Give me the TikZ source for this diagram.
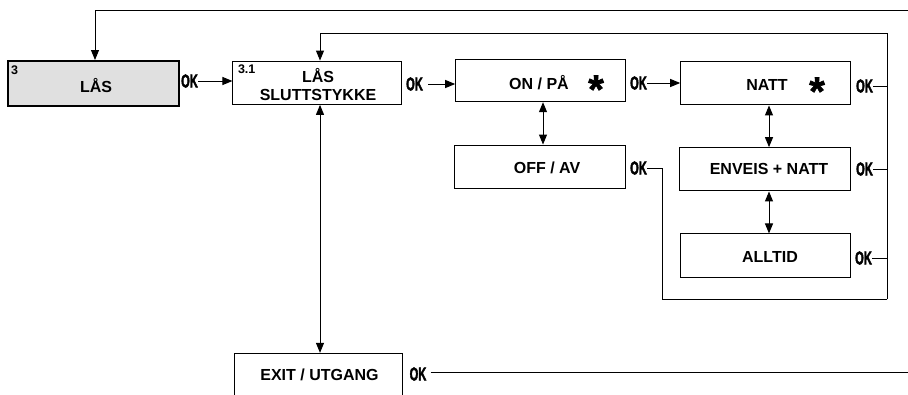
\documentclass[tikz,border=0pt]{standalone}
\usepackage{fontspec}
\usepackage{graphicx}
\setmainfont{Liberation Sans}
\newfontfamily\okfont[FakeBold=3]{Liberation Sans Bold}
\newfontfamily\starfont[FakeBold=1.5]{Liberation Sans Bold}
\usetikzlibrary{arrows.meta}
\begin{document}
\begin{tikzpicture}[x=1pt,y=-1pt,
  box/.style={draw, line width=1pt, inner sep=0pt, minimum width=170pt, minimum height=43pt},
  mainbox/.style={box, line width=2pt, fill=black!12},
  txt/.style={font=\bfseries\fontsize{16}{18}\selectfont, inner sep=0pt, anchor=base},
  num/.style={font=\bfseries\fontsize{12.5}{14}\selectfont, inner sep=0pt},
  oklbl/.style={font=\okfont\fontsize{18.5}{18.5}\selectfont, inner sep=0pt},
  starlbl/.style={font=\starfont\fontsize{40}{40}\selectfont, inner sep=0pt, anchor=base},
  ln/.style={line width=1pt},
  arr/.style={ln, -{Triangle[length=10pt,width=8pt]}},
  darr/.style={ln, {Triangle[length=10pt,width=8pt]}-{Triangle[length=10pt,width=8pt]}}
]
\useasboundingbox (0,0) rectangle (908,394);
\clip (0,0) rectangle (908,394);

% boxes
\node[mainbox, minimum width=171pt, minimum height=45pt] (las) at (93.7,83.5) {};
\node[box, minimum width=168.7pt, minimum height=43.3pt] (b31) at (317.3,82.7) {};
\node[box, minimum height=42.4pt] (on) at (540.7,80.5) {};
\node[box, minimum height=43.3pt] (natt) at (765.7,83.3) {};
\node[box, minimum width=171.7pt, minimum height=43.3pt] (off) at (540,166.7) {};
\node[box, minimum width=170.7pt, minimum height=43.3pt] (env) at (765.3,169.3) {};
\node[box, minimum height=43.7pt] (all) at (765.7,255.8) {};
\node[box, minimum width=167.7pt, minimum height=43.3pt] (exit) at (318.8,375) {};

% texts
\node[num] (n3) at (14.5,70.5) {3};
\node[txt] (tlas) at (96,92) {LÅS};
\node[num] (n31) at (246.7,69.5) {3.1};
\node[txt] (t31a) at (318,82) {LÅS};
\node[txt] (t31b) at (318,100) {SLUTTSTYKKE};
\node[txt] (ton) at (539,89.5) {ON / PÅ};
\node[starlbl] (s1) at (596,103) {*};
\node[txt] (tnatt) at (767,90) {NATT};
\node[starlbl] (s2) at (817,105) {*};
\node[txt] (toff) at (547,173) {OFF / AV};
\node[txt] (tenv) at (769,174) {ENVEIS + NATT};
\node[txt] (tall) at (770,262) {ALLTID};
\node[txt] (texit) at (319.5,380) {EXIT / UTGANG};

% OK labels
\node[oklbl] (ok1) at (189.5,81) {\scalebox{0.6}[1]{OK}};
\node[oklbl] (ok2) at (414.5,84) {\scalebox{0.6}[1]{OK}};
\node[oklbl] (ok3) at (638.5,83) {\scalebox{0.6}[1]{OK}};
\node[oklbl] (ok4) at (864.5,86) {\scalebox{0.6}[1]{OK}};
\node[oklbl] (ok5) at (638.5,168) {\scalebox{0.6}[1]{OK}};
\node[oklbl] (ok6) at (864.5,169) {\scalebox{0.6}[1]{OK}};
\node[oklbl] (ok7) at (863.5,258) {\scalebox{0.6}[1]{OK}};
\node[oklbl] (ok8) at (418,374) {\scalebox{0.6}[1]{OK}};

% helper coordinates
\coordinate (rtop) at (887.3,33.3);
\coordinate (rbot) at (887.3,299.3);
\coordinate (lbot) at (662.7,299.3);
\coordinate (outer) at (908,10);
\coordinate (exend) at (908,372.5);

% OK connectors
\draw[arr] (ok1.east) -- (ok1.east -| b31.west);
\draw[arr] ([xshift=5pt]ok2.east) -- (ok2.east -| on.west);
\draw[arr] (ok3.east) -- (ok3.east -| natt.west);
\draw[ln] (ok4.east) -- (ok4.east -| rtop);
\draw[ln] (ok6.east) -- (ok6.east -| rtop);
\draw[ln] (ok7.east) -- (ok7.east -| rtop);
\draw[ln] (ok5.east) -| (lbot) -- (rbot);
\draw[ln] ([xshift=4pt]ok8.east |- exend) -- (exend);

% return loops
\draw[arr] (rbot) -- (rtop) -| ([xshift=2.7pt]b31.north);
\draw[arr] (outer) -| ([xshift=1.3pt]las.north);

% double arrows
\draw[darr] ([xshift=2.3pt]on.south) -- ([xshift=2.3pt]on.south |- off.north);
\draw[darr] ([xshift=3.3pt]natt.south) -- ([xshift=3.3pt]natt.south |- env.north);
\draw[darr] ([xshift=3.7pt]env.south) -- ([xshift=3.7pt]env.south |- all.north);
\draw[darr] ([xshift=2.7pt]b31.south) -- ([xshift=2.7pt]b31.south |- exit.north);
\end{tikzpicture}
\end{document}
